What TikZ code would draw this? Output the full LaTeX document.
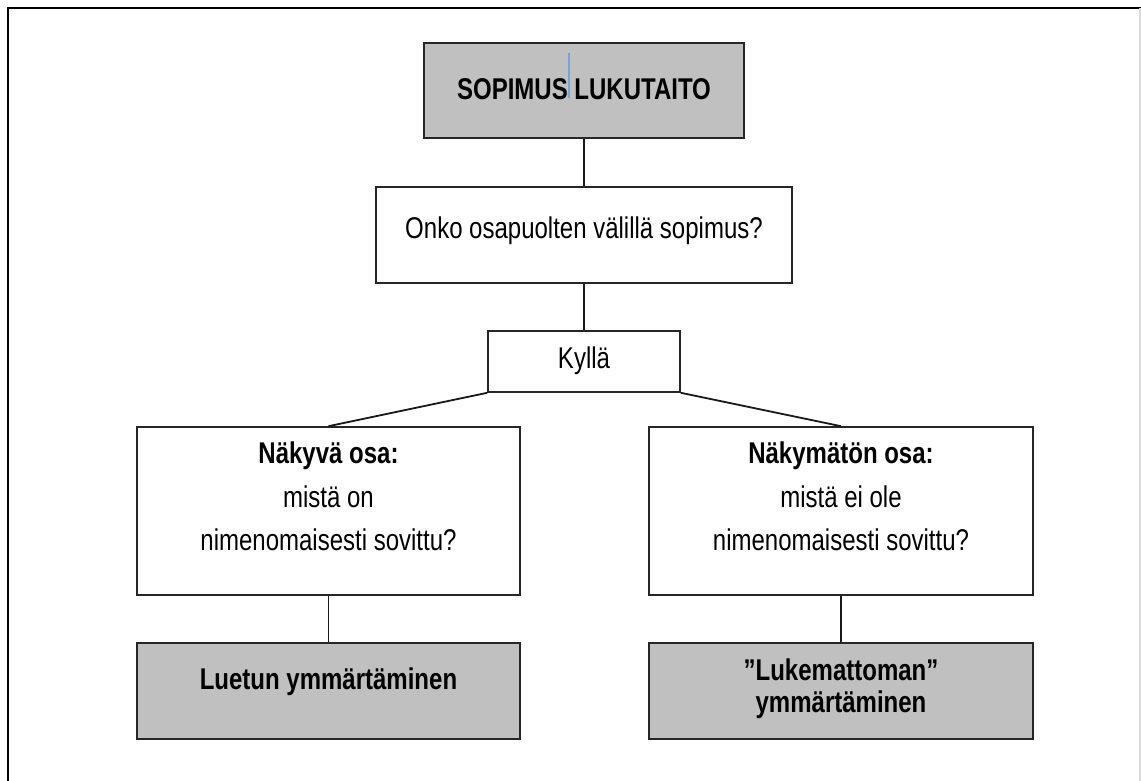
\documentclass[tikz,border=0pt]{standalone}
\usepackage{fontspec}
\setmainfont{Liberation Sans}[FakeStretch=0.8]
\begin{document}
\begin{tikzpicture}[x=1pt,y=-1pt,
  box/.style={draw=black!85,line width=1.6pt,inner sep=0pt,rectangle},
  graybox/.style={box,fill=boxgray},
  txt/.style={anchor=base,inner sep=0pt,font=\fontsize{30}{34}\selectfont},
  btxt/.style={txt,font=\fontsize{30}{34}\selectfont\bfseries},
  link/.style={draw=black!90,line width=1.8pt}]
\definecolor{boxgray}{RGB}{192,192,192}
\definecolor{caret}{RGB}{125,160,210}
\useasboundingbox (0,0) rectangle (1141,781);

% page frame
\draw[line width=2.4pt,black] (8,781) -- (8,8) -- (1141,8);
\draw[line width=1.2pt,black!15] (1140,8) -- (1140,781);

% boxes
\node[graybox,minimum width=320pt,minimum height=95pt] (top) at (584,90.5) {};
\node[box,minimum width=416pt,minimum height=96pt] (q) at (584,235) {};
\node[box,minimum width=192pt,minimum height=61pt] (yes) at (584,361.5) {};
\node[box,minimum width=383pt,minimum height=168pt] (vis) at (328.5,511) {};
\node[box,minimum width=384pt,minimum height=168pt] (invis) at (841,511) {};
\node[graybox,minimum width=383pt,minimum height=96pt] (read) at (328.5,691) {};
\node[graybox,minimum width=384pt,minimum height=96pt] (unread) at (841,691) {};

% texts
\node[btxt] (tTop) at (584,100) {SOPIMUS LUKUTAITO};
\draw[caret,line width=1.5pt] (569,53) -- (569,98);
\node[txt] (tQ) at (584,238) {Onko osapuolten välillä sopimus?};
\node[txt] (tYes) at (584,368) {Kyllä};
\node[btxt] (tVis1) at (328.5,463) {Näkyvä osa:};
\node[txt] (tVis2) at (328.5,507) {mistä on};
\node[txt] (tVis3) at (328.5,550) {nimenomaisesti sovittu?};
\node[btxt] (tInv1) at (841,463) {Näkymätön osa:};
\node[txt] (tInv2) at (841,507) {mistä ei ole};
\node[txt] (tInv3) at (841,550) {nimenomaisesti sovittu?};
\node[btxt] (tRead) at (328.5,689) {Luetun ymmärtäminen};
\node[btxt] (tUn1) at (841,680) {”Lukemattoman”};
\node[btxt] (tUn2) at (841,712) {ymmärtäminen};

% connectors
\draw[link] (top.south) -- (q.north);
\draw[link] (q.south) -- (yes.north);
\draw[link] (yes.south west) -- (vis.north);
\draw[link] (yes.south east) -- (invis.north);
\draw[link] (vis.south) -- (read.north);
\draw[link] (invis.south) -- (unread.north);
\end{tikzpicture}
\end{document}
